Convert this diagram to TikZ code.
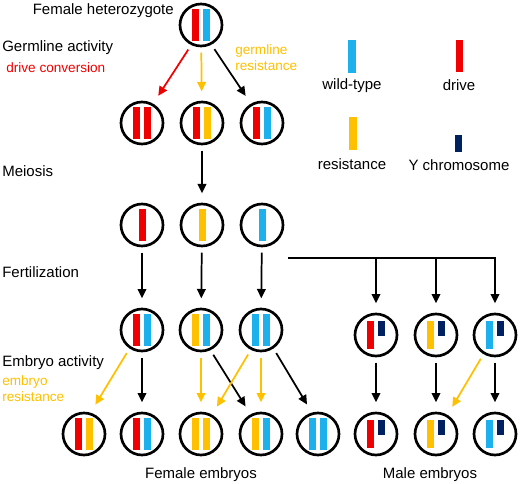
\documentclass[tikz,border=0pt]{standalone}
\usepackage{fontspec}
\setmainfont{Liberation Sans}
\usepackage{tikz}
\usetikzlibrary{arrows.meta}
\usepackage{xcolor}
\definecolor{drivecol}{HTML}{F00000}
\definecolor{wtcol}{HTML}{1CB0EC}
\definecolor{rescol}{HTML}{FFC000}
\definecolor{ycol}{HTML}{002060}
% chromosome bars inside a cell node
\newcommand{\twochrom}[3]{%
  \fill[#2] ([shift={(-9,-16)}]#1.center) rectangle ++(7,32);
  \fill[#3] ([shift={(2,-16)}]#1.center) rectangle ++(7,32);}
\newcommand{\onechrom}[2]{%
  \fill[#2] ([shift={(-3.5,-16)}]#1.center) rectangle ++(7,32);}
\newcommand{\malechrom}[2]{%
  \fill[#2] ([shift={(-9,-14)}]#1.center) rectangle ++(7,28);
  \fill[ycol] ([shift={(2,-14)}]#1.center) rectangle ++(7,15);}

\begin{document}
\begin{tikzpicture}[x=0.75pt,y=-0.75pt,>={Triangle[length=7pt,width=6.5pt]},
  cell/.style={circle,draw,line width=2pt,minimum size=31.5pt,inner sep=0pt},
  arr/.style={->,line width=1.3pt,shorten <=4pt,shorten >=7pt},
  lab/.style={inner sep=0pt,font=\fontsize{11.25}{13}\selectfont},
  note/.style={inner sep=0pt,font=\fontsize{10.2}{12.6}\selectfont}]
  \useasboundingbox (0,0) rectangle (520,484);

  % cells
  \node[cell] (top) at (201,25) {};
  \node[cell] (g1) at (142,123) {};
  \node[cell] (g2) at (202,123) {};
  \node[cell] (g3) at (262,123) {};
  \node[cell] (gam1) at (142,225) {};
  \node[cell] (gam2) at (202,225) {};
  \node[cell] (gam3) at (262,225) {};
  \node[cell] (zf1) at (142,330) {};
  \node[cell] (zf2) at (201,330) {};
  \node[cell] (zf3) at (261,330) {};
  \node[cell] (zm1) at (376,335) {};
  \node[cell] (zm2) at (436,335) {};
  \node[cell] (zm3) at (495,335) {};
  \node[cell] (ef1) at (84,434) {};
  \node[cell] (ef2) at (142,434) {};
  \node[cell] (ef3) at (201,434) {};
  \node[cell] (ef4) at (261,434) {};
  \node[cell] (ef5) at (318,434) {};
  \node[cell] (em1) at (376,434) {};
  \node[cell] (em2) at (436,434) {};
  \node[cell] (em3) at (495,434) {};

  \foreach \n/\a/\b in {top/drivecol/wtcol, g1/drivecol/drivecol,
      g2/drivecol/rescol, g3/drivecol/wtcol, zf1/drivecol/wtcol,
      zf2/rescol/wtcol, zf3/wtcol/wtcol, ef1/drivecol/rescol,
      ef2/drivecol/wtcol, ef3/rescol/rescol, ef4/rescol/wtcol,
      ef5/wtcol/wtcol}
    {\twochrom{\n}{\a}{\b}}
  \onechrom{gam1}{drivecol}
  \onechrom{gam2}{rescol}
  \onechrom{gam3}{wtcol}
  \foreach \n/\a in {zm1/drivecol, zm2/rescol, zm3/wtcol,
      em1/drivecol, em2/rescol, em3/wtcol}
    {\malechrom{\n}{\a}}

  % germline
  \draw[arr,drivecol] (top.244) -- (g1.60);
  \draw[arr,rescol] (top) -- (g2);
  \draw[arr] (top.298) -- (g3.120);
  % meiosis and fertilization
  \draw[arr] (g2) -- (gam2);
  \foreach \i in {1,2,3} \draw[arr] (gam\i) -- (zf\i);
  \coordinate (fert) at (288,258);
  \draw[arr,shorten <=0pt] (fert) -| (zm3);
  \draw[arr,shorten <=0pt] (fert -| zm1) -- (zm1);
  \draw[arr,shorten <=0pt] (fert -| zm2) -- (zm2);
  % embryo activity
  \draw[arr,rescol] (zf1.236) -- (ef1.73);
  \draw[arr] (zf1) -- (ef2);
  \draw[arr,rescol] (zf2) -- (ef3);
  \draw[arr] (zf2.295) -- (ef4.118);
  \draw[arr,rescol] (zf3.243) -- (ef3.60);
  \draw[arr,rescol] (zf3) -- (ef4);
  \draw[arr] (zf3.304) -- (ef5.106);
  \foreach \i in {1,2,3} \draw[arr] (zm\i) -- (em\i);
  \draw[arr,rescol] (zm3.239) -- (em2.59);

  % legend
  \fill[wtcol] (348,40) rectangle (356,73);
  \node[lab,anchor=base] (lwt) at (352,90) {wild-type};
  \fill[drivecol] (456,40) rectangle (463,72);
  \node[lab,anchor=base] (ldr) at (459,91) {drive};
  \fill[rescol] (349,117) rectangle (357,150);
  \node[lab,anchor=base] (lres) at (352,170) {resistance};
  \fill[ycol] (455,135) rectangle (462,152);
  \node[lab,anchor=base] (ly) at (459,171) {Y chromosome};

  % labels
  \node[lab,anchor=base east] (lhet) at (174,15) {Female heterozygote};
  \node[lab,anchor=base west] (lgerm) at (2,52) {Germline activity};
  \node[note,anchor=base west,text=drivecol] (ldrive) at (6,73) {drive conversion};
  \node[note,anchor=north west,align=left,text=rescol] (lgres) at (235,44) {germline\\resistance};
  \node[lab,anchor=base west] (lmei) at (2,177) {Meiosis};
  \node[lab,anchor=base west] (lfert) at (2,277) {Fertilization};
  \node[lab,anchor=base west] (lemb) at (2,366) {Embryo activity};
  \node[note,anchor=north west,align=left,text=rescol] (leres) at (2,375) {embryo\\resistance};
  \node[lab,anchor=base] (lfem) at (201,478) {Female embryos};
  \node[lab,anchor=base] (lmale) at (430,478) {Male embryos};
\end{tikzpicture}
\end{document}
